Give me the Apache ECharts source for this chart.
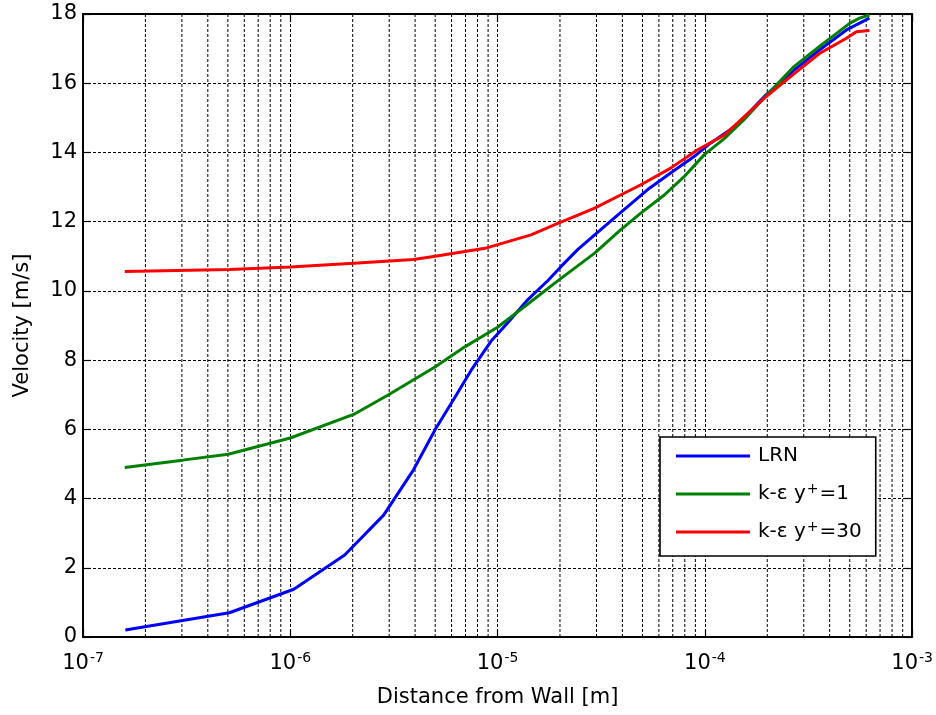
<!DOCTYPE html>
<html>
<head>
<meta charset="utf-8">
<script src="https://cdn.jsdelivr.net/npm/echarts@6/dist/echarts.min.js"></script>
<style>
html,body{margin:0;padding:0;background:#fff;}
#chart{width:936px;height:715px;}
</style>
</head>
<body>
<div id="chart"></div>
<script>
// ---- data ----
var seriesNames = ['LRN', 'k-ε y+=1', 'k-ε y+=30'];
var seriesColors = ['#0000ff', '#008000', '#ff0000'];

var lrnX = [1.60e-7, 5.08e-7, 1.04e-6, 1.83e-6, 2.82e-6, 3.93e-6, 5.01e-6, 6.25e-6, 7.46e-6, 9.31e-6, 1.12e-5, 1.40e-5, 1.75e-5, 2.02e-5, 2.44e-5, 2.94e-5, 3.92e-5, 5.28e-5, 6.81e-5, 8.87e-5, 1.06e-4, 1.43e-4, 1.93e-4, 2.69e-4, 3.57e-4, 4.82e-4, 6.22e-4];
var lrnY = [0.20, 0.70, 1.38, 2.37, 3.52, 4.83, 6.00, 6.94, 7.71, 8.55, 9.08, 9.75, 10.30, 10.70, 11.20, 11.62, 12.26, 12.92, 13.40, 13.88, 14.26, 14.79, 15.61, 16.38, 16.96, 17.54, 17.88];

var ke1X = [1.59e-7, 3.02e-7, 5.02e-7, 1.0e-6, 2.02e-6, 2.98e-6, 5.01e-6, 6.98e-6, 1.0e-5, 1.40e-5, 1.95e-5, 2.94e-5, 3.92e-5, 4.89e-5, 6.37e-5, 7.94e-5, 9.91e-5, 1.24e-4, 1.54e-4, 1.99e-4, 2.69e-4, 3.57e-4, 4.32e-4, 4.99e-4, 5.57e-4, 6.22e-4];
var ke1Y = [4.90, 5.11, 5.28, 5.75, 6.43, 7.00, 7.81, 8.39, 8.95, 9.62, 10.29, 11.09, 11.76, 12.24, 12.77, 13.30, 13.93, 14.40, 14.94, 15.66, 16.48, 17.06, 17.44, 17.73, 17.88, 17.97];

var ke30X = [1.59e-7, 5.08e-7, 1.0e-6, 2.02e-6, 3.93e-6, 5.0e-6, 8.7e-6, 1.09e-5, 1.45e-5, 1.95e-5, 2.44e-5, 2.94e-5, 3.92e-5, 4.89e-5, 6.81e-5, 9.19e-5, 1.24e-4, 1.43e-4, 1.93e-4, 2.48e-4, 2.69e-4, 3.57e-4, 4.82e-4, 5.38e-4, 6.22e-4];
var ke30Y = [10.56, 10.62, 10.69, 10.80, 10.91, 11.00, 11.23, 11.40, 11.62, 11.95, 12.19, 12.39, 12.77, 13.06, 13.54, 14.07, 14.50, 14.84, 15.56, 16.10, 16.27, 16.86, 17.30, 17.49, 17.52];

var xMin = 1e-7, xMax = 1e-3;
var yMin = 0, yMax = 18, yStep = 2;
var xTitle = 'Distance from Wall [m]';
var yTitle = 'Velocity [m/s]';

// minor log grid positions (2..9 x 10^k)
var minorX = [];
for (var k = -7; k < -3; k++) {
  for (var m = 2; m <= 9; m++) minorX.push(m * Math.pow(10, k));
}

function pairs(xs, ys) { return xs.map(function (x, i) { return [x, ys[i]]; }); }

var FONT = 'DejaVu Sans';
var gridDash = { color: '#000', width: 1, type: [3, 2] };

var legendRich = {
  a: { fontSize: 20, fontFamily: FONT, color: '#000', lineHeight: 24 },
  s: { fontSize: 14, fontFamily: FONT, color: '#000', verticalAlign: 'top', lineHeight: 16, padding: [0, 1, 0, 1] }
};

var chart = echarts.init(document.getElementById('chart'), null, { renderer: 'canvas' });

var series = [];
// minor vertical grid lines, drawn through the log axis
minorX.forEach(function (v) {
  series.push({
    type: 'line',
    data: [[v, yMin], [v, yMax]],
    showSymbol: false,
    symbol: 'none',
    silent: true,
    z: 1,
    lineStyle: gridDash,
    emphasis: { disabled: true },
    tooltip: { show: false }
  });
});

var seriesData = [pairs(lrnX, lrnY), pairs(ke1X, ke1Y), pairs(ke30X, ke30Y)];
seriesData.forEach(function (d, i) {
  series.push({
    name: seriesNames[i],
    type: 'line',
    data: d,
    showSymbol: false,
    symbol: 'none',
    smooth: false,
    z: 5,
    lineStyle: { color: seriesColors[i], width: 3 },
    itemStyle: { color: seriesColors[i] },
    emphasis: { disabled: true }
  });
});

var option = {
  animation: false,
  backgroundColor: '#fff',
  textStyle: { fontFamily: FONT },
  grid: { left: 83, right: 20, top: 14, bottom: 78, containLabel: false },
  legend: {
    show: true,
    orient: 'vertical',
    left: 660,
    top: 437,
    padding: [9, 14, 14, 16],
    itemGap: 16,
    itemWidth: 74,
    itemHeight: 3,
    icon: 'rect',
    backgroundColor: '#fff',
    borderColor: '#000',
    borderWidth: 1.6,
    borderRadius: 0,
    selectedMode: false,
    data: seriesNames.map(function (n, i) { return { name: n, itemStyle: { color: seriesColors[i] } }; }),
    formatter: function (name) {
      if (name.indexOf('y+') >= 0) {
        var parts = name.split('y+');
        return '{a|' + parts[0] + 'y}{s|+}{a|' + parts[1] + '}';
      }
      return '{a|' + name + '}';
    },
    textStyle: { rich: legendRich, fontSize: 20, fontFamily: FONT, color: '#000', padding: [0, 0, 0, 3] }
  },
  xAxis: [{
    type: 'log',
    logBase: 10,
    min: xMin,
    max: xMax,
    interval: 1,
    position: 'bottom',
    name: xTitle,
    nameLocation: 'middle',
    nameGap: 50,
    nameTextStyle: { fontSize: 21, fontFamily: FONT, color: '#000' },
    axisLine: { show: true, onZero: false, lineStyle: { color: '#000', width: 2 } },
    axisTick: { show: true, inside: true, length: 8, lineStyle: { color: '#000', width: 1.2 } },
    minorTick: { show: false },
    splitLine: { show: true, lineStyle: gridDash },
    axisLabel: {
      margin: 14,
      color: '#000',
      formatter: function (v) {
        return '{b|10}{e|' + Math.round(Math.log10(v)) + '}';
      },
      rich: {
        b: { fontSize: 21, fontFamily: FONT, color: '#000', lineHeight: 26 },
        e: { fontSize: 14, fontFamily: FONT, color: '#000', verticalAlign: 'top', lineHeight: 26, padding: [0, 0, 0, 1] }
      }
    }
  }, {
    type: 'log',
    logBase: 10,
    min: xMin,
    max: xMax,
    interval: 1,
    position: 'top',
    axisLine: { show: true, onZero: false, lineStyle: { color: '#000', width: 2 } },
    axisTick: { show: true, inside: true, length: 8, lineStyle: { color: '#000', width: 1.2 } },
    splitLine: { show: false },
    axisLabel: { show: false }
  }],
  yAxis: [{
    type: 'value',
    min: yMin,
    max: yMax,
    interval: yStep,
    position: 'left',
    name: yTitle,
    nameLocation: 'middle',
    nameGap: 50,
    nameRotate: 90,
    nameTextStyle: { fontSize: 21, fontFamily: FONT, color: '#000' },
    axisLine: { show: true, onZero: false, lineStyle: { color: '#000', width: 2 } },
    axisTick: { show: true, inside: true, length: 8, lineStyle: { color: '#000', width: 1.2 } },
    splitLine: { show: true, lineStyle: gridDash },
    axisLabel: { margin: 6, fontSize: 21, fontFamily: FONT, color: '#000' }
  }, {
    type: 'value',
    min: yMin,
    max: yMax,
    interval: yStep,
    position: 'right',
    axisLine: { show: true, onZero: false, lineStyle: { color: '#000', width: 2 } },
    axisTick: { show: true, inside: true, length: 8, lineStyle: { color: '#000', width: 1.2 } },
    splitLine: { show: false },
    axisLabel: { show: false }
  }],
  series: series
};

chart.setOption(option);
</script>
</body>
</html>
